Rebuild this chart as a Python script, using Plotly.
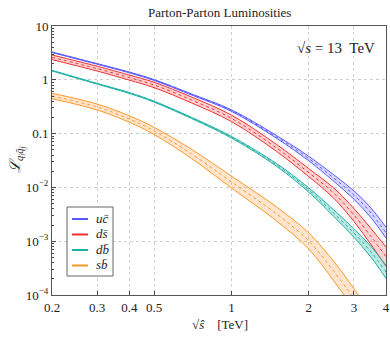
import plotly.graph_objects as go

# sqrt(s-hat) in TeV
x_tev = [0.2, 0.3, 0.4, 0.5, 0.7, 1.0, 1.5, 2.0, 2.5, 3.0, 3.5, 4.0]

# u c-bar
uc_c = [3.25, 1.97, 1.37, 0.99, 0.533, 0.268, 0.0865, 0.0344, 0.0150, 0.00722, 0.00334, 0.00144]
uc_hi = [3.288, 1.997, 1.392, 1.008, 0.5454, 0.2768, 0.09163, 0.03789, 0.01722, 0.00864, 0.004109, 0.001813]
uc_lo = [3.213, 1.943, 1.348, 0.972, 0.5209, 0.2595, 0.08166, 0.03123, 0.01306, 0.006033, 0.002715, 0.001144]

# d s-bar
ds_c = [2.62, 1.61, 1.10, 0.80, 0.421, 0.192, 0.054, 0.0188, 0.00787, 0.00307, 0.00121, 0.000515]
ds_hi = [2.893, 1.786, 1.226, 0.8976, 0.4778, 0.2205, 0.06272, 0.02234, 0.009794, 0.004047, 0.001709, 0.0007795]
ds_lo = [2.373, 1.4515, 0.9872, 0.713, 0.3709, 0.1672, 0.0465, 0.01582, 0.006324, 0.002329, 0.0008566, 0.0003402]

# d b-bar
db_c = [1.48, 0.843, 0.569, 0.392, 0.195, 0.0857, 0.0261, 0.00895, 0.00334, 0.00142, 0.00063, 0.000268]
db_hi = [1.5006, 0.8567, 0.5796, 0.4002, 0.2000, 0.08871, 0.02765, 0.009814, 0.003835, 0.001707, 0.000793, 0.0003533]
db_lo = [1.4597, 0.8296, 0.5586, 0.3840, 0.1901, 0.08279, 0.02464, 0.008162, 0.002909, 0.001181, 0.0005004, 0.0002033]

# s b-bar
x_sb = [0.2, 0.3, 0.4, 0.5, 0.7, 1.0, 1.5, 2.0, 2.5, 3.0, 3.5]
sb_c = [0.50, 0.312, 0.187, 0.112, 0.0418, 0.0126, 0.0032, 0.00101, 0.00028, 0.000085, 0.000028]
sb_hi = [0.561, 0.3541, 0.2147, 0.1304, 0.05084, 0.01623, 0.004317, 0.001427, 0.0004238, 0.0001316, 0.00004438]
sb_lo = [0.4456, 0.2749, 0.1629, 0.09621, 0.03437, 0.009781, 0.002372, 0.000715, 0.000185, 0.00005488, 0.00001767]

labels = ["<i>uc̄</i>", "<i>ds̄</i>", "<i>db̄</i>", "<i>sb̄</i>"]
xtick_vals = [0.2, 0.3, 0.4, 0.5, 1, 2, 3, 4]
xtick_text = ["0.2", "0.3", "0.4", "0.5", "1", "2", "3", "4"]
ytick_vals = [10, 1, 0.1, 0.01, 0.001, 0.0001]
ytick_text = ["10", "1", "0.1", "10<sup>−2</sup>", "10<sup>−3</sup>", "10<sup>−4</sup>"]

colors = ["#5a5aff", "#f03232", "#20b2a6", "#ff9628"]
fills = ["rgba(140,140,255,0.35)", "rgba(255,120,120,0.35)", "rgba(32,178,166,0.30)", "rgba(255,170,90,0.30)"]

series = [
    (x_tev, uc_c, uc_hi, uc_lo),
    (x_tev, ds_c, ds_hi, ds_lo),
    (x_tev, db_c, db_hi, db_lo),
    (x_sb, sb_c, sb_hi, sb_lo),
]

FONT = "Liberation Serif"
W, H = 390, 338
ML, MR, MT, MB = 52, 4, 26, 43
PW, PH = W - ML - MR, H - MT - MB


def px(xp):
    return (xp - ML) / PW


def py(yp):
    return (H - MB - yp) / PH


fig = go.Figure()
for i, (xs, c, hi, lo) in enumerate(series):
    col = colors[i]
    fig.add_trace(go.Scatter(x=xs, y=lo, mode="lines", line=dict(color=col, width=1, shape="spline"),
                             showlegend=False, hoverinfo="skip"))
    fig.add_trace(go.Scatter(x=xs, y=hi, mode="lines", line=dict(color=col, width=1, shape="spline"),
                             fill="tonexty", fillcolor=fills[i], showlegend=False, hoverinfo="skip"))
    fig.add_trace(go.Scatter(x=xs, y=c, mode="lines", name=labels[i],
                             line=dict(color=col, width=1, dash="3px,3px", shape="spline"),
                             showlegend=False))

minor_y = []
for dec in [1e-4, 1e-3, 1e-2, 1e-1, 1]:
    for k in range(2, 10):
        minor_y.append(dec * k)

# legend drawn as a framed key inside the plot
shapes = [dict(type="rect", xref="paper", yref="paper", x0=px(67), x1=px(113), y0=py(276), y1=py(207),
               line=dict(color="#666", width=1), fillcolor="white", layer="above")]
annotations = []
for i, yy in enumerate([219, 234.5, 250, 265.5]):
    shapes.append(dict(type="line", xref="paper", yref="paper", x0=px(72), x1=px(88), y0=py(yy), y1=py(yy),
                       line=dict(color=colors[i], width=2), layer="above"))
    annotations.append(dict(text=labels[i], xref="paper", yref="paper", x=px(94), y=py(yy - 1),
                            xanchor="left", yanchor="middle", showarrow=False,
                            font=dict(family=FONT, size=13, color="#222")))

annotations += [
    dict(text="Parton-Parton Luminosities", xref="paper", yref="paper", x=0.5, y=py(12),
         xanchor="center", yanchor="middle", showarrow=False, font=dict(family=FONT, size=13)),
    dict(text="√<i>s</i> = 13  TeV", xref="paper", yref="paper", x=px(377), y=py(48),
         xanchor="right", yanchor="middle", showarrow=False, font=dict(family=FONT, size=15)),
    dict(text="√<i>ŝ</i>    [TeV]", xref="paper", yref="paper", x=px(220), y=py(324),
         xanchor="center", yanchor="middle", showarrow=False, font=dict(family=FONT, size=13)),
    dict(text="<i>ℒ<sub>q<sub>i</sub>q̄<sub>j</sub></sub></i>", xref="paper", yref="paper", x=px(17), y=py(160),
         xanchor="center", yanchor="middle", showarrow=False, textangle=-90, font=dict(family=FONT, size=15)),
]

fig.update_layout(
    width=W, height=H,
    margin=dict(l=ML, r=MR, t=MT, b=MB),
    paper_bgcolor="white", plot_bgcolor="white",
    font=dict(family=FONT, size=13, color="#222"),
    showlegend=False,
    xaxis=dict(type="log", range=[-0.69897, 0.60206], automargin=False,
               tickvals=xtick_vals, ticktext=xtick_text,
               ticks="inside", ticklen=4, tickcolor="#444",
               showline=True, linecolor="#555", linewidth=1, mirror=True,
               showgrid=True, gridcolor="#cfcfcf", griddash="dot", gridwidth=1,
               zeroline=False, tickfont=dict(size=13)),
    yaxis=dict(type="log", range=[-4, 1], automargin=False,
               tickvals=ytick_vals, ticktext=ytick_text,
               ticks="inside", ticklen=4, tickcolor="#444",
               minor=dict(tickvals=minor_y, ticks="inside", ticklen=2, tickcolor="#444", showgrid=False),
               showline=True, linecolor="#555", linewidth=1, mirror=True,
               showgrid=True, gridcolor="#cfcfcf", griddash="dot", gridwidth=1,
               zeroline=False, tickfont=dict(size=13)),
    shapes=shapes,
    annotations=annotations,
)

fig.write_html("out.html", config={"displayModeBar": False},
               post_script="document.body.style.margin='0';document.body.style.overflow='hidden';")
